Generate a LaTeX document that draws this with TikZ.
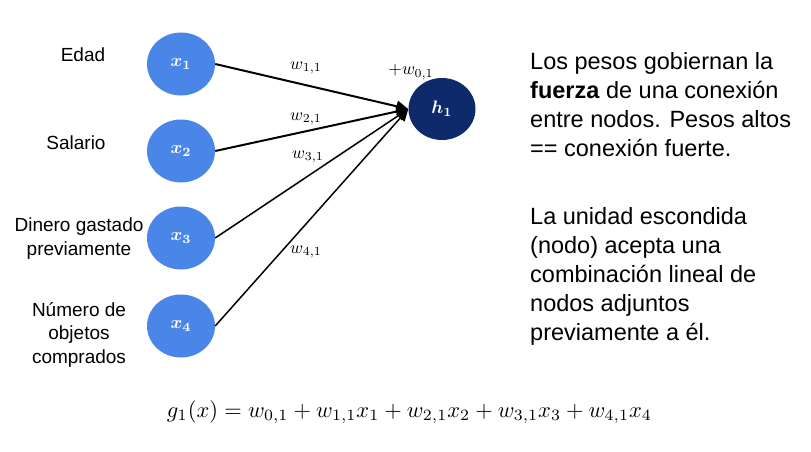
\documentclass[tikz,border=0pt]{standalone}
\usepackage{graphicx}
\usepackage{fontspec}
\setmainfont{Liberation Sans}
\usetikzlibrary{arrows.meta,shapes.geometric}
\definecolor{inblue}{HTML}{4A86E8}
\definecolor{hnavy}{HTML}{0F2A6B}
\newcommand{\sizedmath}[2]{\scalebox{#1}{$#2$}}
\begin{document}
\begin{tikzpicture}[x=1pt,y=-1pt,
  innode/.style={ellipse, fill=inblue, minimum width=68pt, minimum height=63pt, inner sep=0pt, text=white, font=\boldmath},
  hidnode/.style={ellipse, fill=hnavy, minimum width=67pt, minimum height=62pt, inner sep=0pt, text=white, font=\boldmath},
  lbl/.style={align=center, font=\fontsize{19}{23.5}\selectfont, anchor=base, inner sep=0pt},
  wlbl/.style={inner sep=0pt},
  para/.style={align=left, anchor=base west, inner sep=0pt, font=\fontsize{23.5}{29}\selectfont},
  conn/.style={-{Triangle[length=12pt,width=11pt]}},
]
\fill[white] (0,0) rectangle (811,452);
\path[use as bounding box] (0,0) rectangle (811,452);

% input nodes
\node[innode] (x1) at (181,64) {\raisebox{-3pt}{\sizedmath{1.8}{x_1}}};
\node[innode] (x2) at (181,151) {\raisebox{-3pt}{\sizedmath{1.8}{x_2}}};
\node[innode] (x3) at (181,238) {\raisebox{-3pt}{\sizedmath{1.8}{x_3}}};
\node[innode] (x4) at (181,326) {\raisebox{-3pt}{\sizedmath{1.8}{x_4}}};
\node[hidnode] (h1) at (442,109) {\sizedmath{1.8}{h_1}};

% labels (anchor = baseline of last line)
\node[lbl] (l1) at (83,62) {Edad};
\node[lbl] (l2) at (76,149) {Salario};
\node[lbl] (l3) at (79,255) {Dinero gastado\\previamente};
\node[lbl] (l4) at (79,363) {Número de\\objetos\\comprados};

% connectors
\draw[conn, line width=2pt] (x1.east) -- (h1.west);
\draw[conn, line width=2pt] (x2.east) -- (h1.west);
\draw[conn, line width=1.5pt] (x3.east) -- (h1.west);
\draw[conn, line width=1.5pt] (x4.east) -- (h1.west);

% weights
\node[wlbl] (w1) at (306,68) {\sizedmath{1.75}{w_{1,1}}};
\node[wlbl] (w2) at (306,119) {\sizedmath{1.75}{w_{2,1}}};
\node[wlbl] (w3) at (308,157) {\sizedmath{1.75}{w_{3,1}}};
\node[wlbl] (w4) at (306,252) {\sizedmath{1.75}{w_{4,1}}};
\node[wlbl] (w0) at (411,72) {\sizedmath{1.75}{+w_{0,1}}};

% right text (anchor = baseline of last line)
\node[para] (p1) at (530,156) {Los pesos gobiernan la\\\textbf{fuerza} de una conexión\\entre nodos. Pesos altos\\== conexión fuerte.};
\node[para] (p2) at (530,340) {La unidad escondida\\(nodo) acepta una\\combinación lineal de\\nodos adjuntos\\previamente a él.};

% equation
\node[anchor=base, inner sep=0pt] (eq) at (409.5,417) {\resizebox{485pt}{!}{$g_1(x) = w_{0,1} + w_{1,1}x_1 + w_{2,1}x_2 + w_{3,1}x_3 + w_{4,1}x_4$}};
\end{tikzpicture}
\end{document}
